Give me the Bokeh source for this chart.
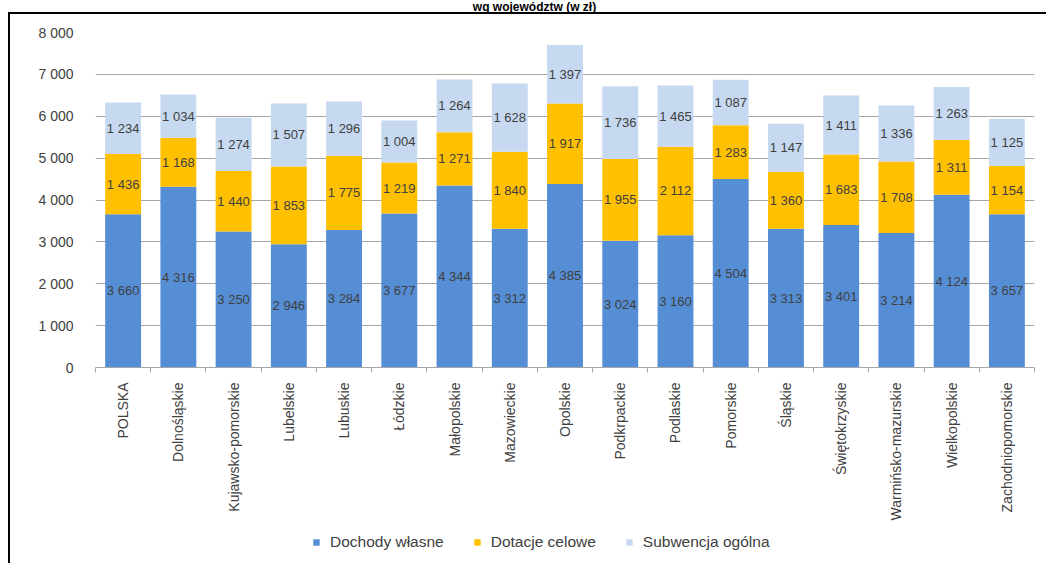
import math
from bokeh.plotting import figure
from bokeh.layouts import column
from bokeh.models import (Range1d, FixedTicker, Legend, LegendItem, ColumnDataSource, Label)
from bokeh.core.properties import value
from bokeh.embed import file_html
from bokeh.resources import INLINE

categories = ["POLSKA", "Dolnośląskie", "Kujawsko-pomorskie", "Lubelskie", "Lubuskie",
              "Łódzkie", "Małopolskie", "Mazowieckie", "Opolskie", "Podkrpackie",
              "Podlaskie", "Pomorskie", "Śląskie", "Świętokrzyskie",
              "Warmińsko-mazurskie", "Wielkopolskie", "Zachodniopomorskie"]
dochody_wlasne = [3660, 4316, 3250, 2946, 3284, 3677, 4344, 3312, 4385, 3024, 3160,
                  4504, 3313, 3401, 3214, 4124, 3657]
dotacje_celowe = [1436, 1168, 1440, 1853, 1775, 1219, 1271, 1840, 1917, 1955, 2112,
                  1283, 1360, 1683, 1708, 1311, 1154]
subwencja_ogolna = [1234, 1034, 1274, 1507, 1296, 1004, 1264, 1628, 1397, 1736, 1465,
                    1087, 1147, 1411, 1336, 1263, 1125]
series_names = ["Dochody własne", "Dotacje celowe", "Subwencja ogólna"]
series_colors = ["#558ED5", "#FFC000", "#C6D9F1"]
y_ticks = [0, 1000, 2000, 3000, 4000, 5000, 6000, 7000, 8000]
title_text = "wg województw (w zł)"

FONT = "Liberation Sans"
TXT = "#404040"
GRID = "#A6A6A6"

def fmt(v):
    return f"{v:,}".replace(",", " ")

n = len(categories)
xs = list(range(n))


def strip(height):
    f = figure(width=1046, height=height, output_backend="svg", toolbar_location=None,
               x_range=Range1d(0, 1), y_range=Range1d(0, 1),
               min_border_left=95, min_border_right=12, min_border_top=0,
               min_border_bottom=0)
    f.axis.visible = False
    f.grid.visible = False
    f.outline_line_color = None
    f.background_fill_alpha = 0
    f.border_fill_alpha = 0
    return f


# title strip (above the slide-box line)
top = strip(12)
top.add_layout(Label(x=0.4675, y=0.5, text=title_text, text_align="center",
                     text_baseline="middle", text_font=FONT, text_font_style="bold",
                     text_font_size="12px", text_color="black"))

p = figure(width=1046, height=511, output_backend="svg", toolbar_location=None,
           x_range=Range1d(-0.5, n - 0.5), y_range=Range1d(0, 8000),
           min_border_left=95, min_border_right=12, min_border_top=20,
           min_border_bottom=153)
p.outline_line_color = None
p.background_fill_color = "white"
p.border_fill_alpha = 0

src = ColumnDataSource(dict(x=xs, d=dochody_wlasne, t=dotacje_celowe, s=subwencja_ogolna))
rs = p.vbar_stack(["d", "t", "s"], x="x", width=0.65, fill_color=series_colors,
                  line_color=None, source=src)

# data labels centred in each segment
lx, ly, lt = [], [], []
for i in range(n):
    base = 0
    for vals in (dochody_wlasne, dotacje_celowe, subwencja_ogolna):
        v = vals[i]
        lx.append(i)
        ly.append(base + v / 2)
        lt.append(fmt(v))
        base += v
p.text(x=lx, y=ly, text=lt, text_align="center", text_baseline="middle",
       text_font=value(FONT), text_font_size="13px", text_color=TXT)

# grid
p.xgrid.visible = False
p.ygrid.ticker = FixedTicker(ticks=y_ticks)
p.ygrid.grid_line_color = GRID
p.ygrid.grid_line_width = 1

# y axis
p.yaxis.ticker = FixedTicker(ticks=y_ticks)
p.yaxis.major_label_overrides = {t: fmt(t) for t in y_ticks}
p.yaxis.axis_line_color = None
p.yaxis.major_tick_line_color = None
p.yaxis.minor_tick_line_color = None
p.yaxis.major_label_text_font = FONT
p.yaxis.major_label_text_font_size = "14px"
p.yaxis.major_label_text_color = TXT
p.yaxis.major_label_standoff = 16

# x axis
p.xaxis.ticker = FixedTicker(ticks=xs, minor_ticks=[i - 0.5 for i in range(n + 1)])
p.xaxis.major_label_overrides = {i: c for i, c in enumerate(categories)}
p.xaxis.major_tick_out = 0
p.xaxis.major_tick_in = 0
p.xaxis.minor_tick_out = 5
p.xaxis.minor_tick_in = 0
p.xaxis.axis_line_color = GRID
p.xaxis.minor_tick_line_color = GRID
p.xaxis.major_label_orientation = math.pi / 2
p.xaxis.major_label_text_font = FONT
p.xaxis.major_label_text_font_size = "14px"
p.xaxis.major_label_text_color = TXT
p.xaxis.major_label_standoff = 10

# legend strip below the chart (key glyphs: zero-width copies of the series, off-frame)
leg = strip(40)
leg.x_range = Range1d(-0.5, n - 0.5)
leg.y_range = Range1d(-20, -10)
leg_rs = leg.vbar_stack(["d", "t", "s"], x="x", width=0, fill_color=series_colors,
                        line_color=None, source=src)
legend = Legend(items=[LegendItem(label=nm, renderers=[r]) for nm, r in zip(series_names, leg_rs)],
                orientation="horizontal", location=(217, 12), border_line_color=None,
                background_fill_alpha=0, label_text_font=FONT,
                label_text_font_size="15.5px", label_text_color=TXT,
                glyph_width=8, glyph_height=8, label_standoff=10, spacing=29,
                padding=0, margin=0)
leg.add_layout(legend, "center")

box_bg = ("linear-gradient(#000, #000) 8px 12px / 2px 551px no-repeat, "
          "linear-gradient(#000, #000) 8px 12px / 1038px 2px no-repeat, #ffffff")
layout = column(top, p, leg, spacing=0, styles={"background": box_bg})

open("out.html", "w").write(file_html(layout, INLINE))
